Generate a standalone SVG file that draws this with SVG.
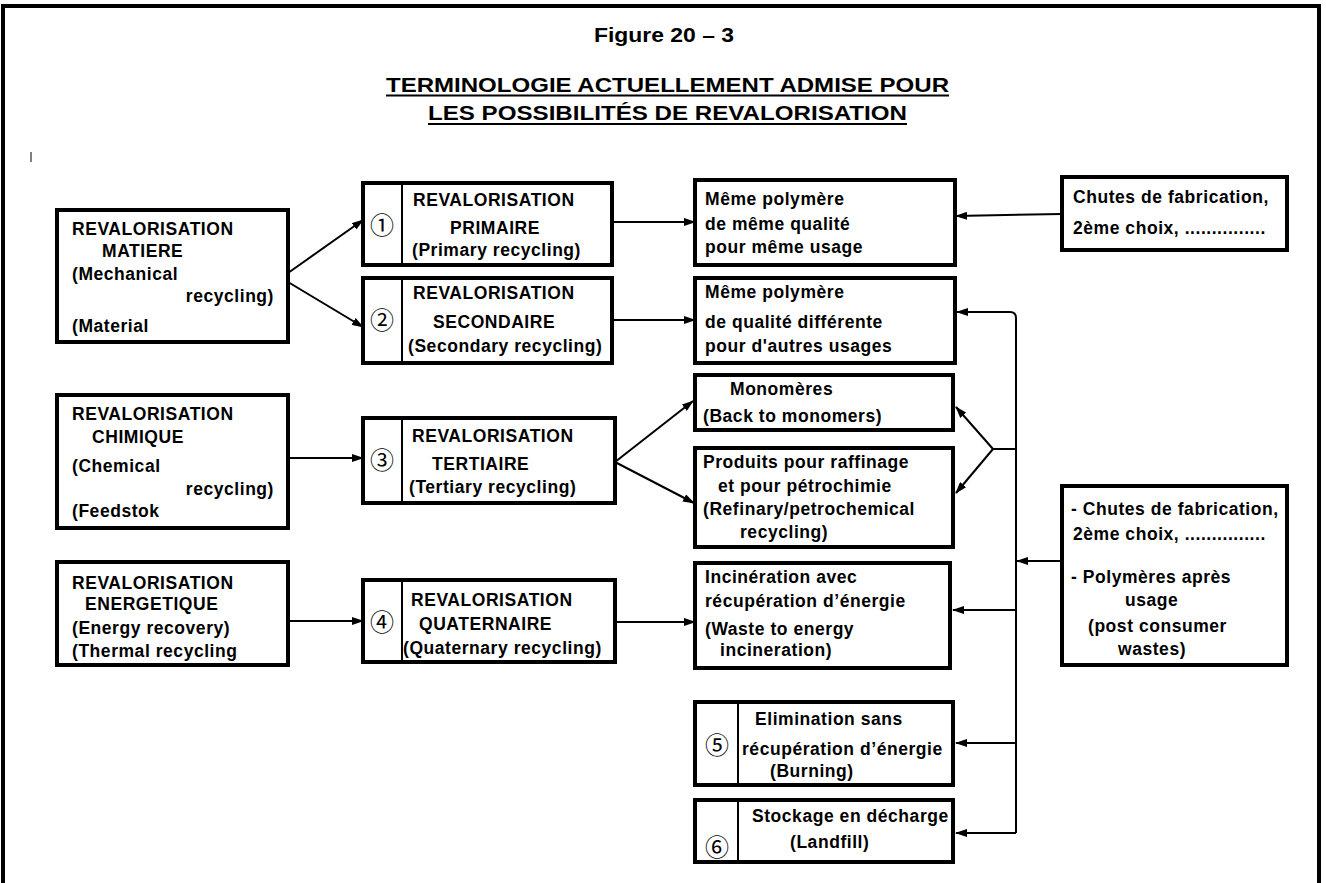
<svg xmlns="http://www.w3.org/2000/svg" width="1326" height="883" viewBox="0 0 1326 883">
<defs>
<marker id="ah" markerWidth="12" markerHeight="8" refX="11" refY="4" orient="auto" markerUnits="userSpaceOnUse"><path d="M0,0 L12,4 L0,8 z" fill="#000"/></marker>
</defs>
<style>
.box{fill:#fff;stroke:#000;stroke-width:4}
.dv{stroke:#000;stroke-width:2}
.t{font-family:"Liberation Sans",Arial,sans-serif;font-weight:bold;font-size:17.5px;fill:#000;letter-spacing:0.55px}
.h{font-family:"Liberation Sans",Arial,sans-serif;font-weight:bold;fill:#000;text-anchor:middle}
.c{font-family:"Noto Sans CJK JP","DejaVu Sans",sans-serif;font-size:24px;text-anchor:middle;fill:#000}
.ln{fill:none;stroke:#000;stroke-width:2}
.ul{stroke:#000;stroke-width:2}
</style>
<rect width="1326" height="883" fill="#fff"/>
<g id="frame">
<path d="M3,883 V6 H1319 V883" fill="none" stroke="#000" stroke-width="4"/>
<line x1="31" y1="152" x2="31" y2="162" stroke="#000" stroke-width="1"/>
</g>
<g id="title">
<text class="h" x="664" y="42" font-size="21" textLength="140" lengthAdjust="spacingAndGlyphs">Figure 20 – 3</text>
<text class="h" x="667.5" y="92" font-size="21" textLength="563" lengthAdjust="spacingAndGlyphs">TERMINOLOGIE ACTUELLEMENT ADMISE POUR</text>
<line class="ul" x1="386" y1="95.5" x2="949" y2="95.5"/>
<text class="h" x="667.5" y="120" font-size="21" textLength="479" lengthAdjust="spacingAndGlyphs">LES POSSIBILITÉS DE REVALORISATION</text>
<line class="ul" x1="428" y1="124" x2="907" y2="124"/>
</g>
<g id="connectors">
<line class="ln" x1="288" y1="273" x2="363" y2="220" marker-end="url(#ah)"/>
<line class="ln" x1="288" y1="282" x2="363" y2="327" marker-end="url(#ah)"/>
<line class="ln" x1="612" y1="222" x2="695" y2="222" marker-end="url(#ah)"/>
<line class="ln" x1="612" y1="320" x2="695" y2="320" marker-end="url(#ah)"/>
<line class="ln" x1="1062" y1="214" x2="956" y2="216" marker-end="url(#ah)"/>
<path class="ln" d="M1016,833 V318 Q1016,312 1010,312 H957" marker-end="url(#ah)"/>
<line class="ln" x1="1016" y1="449" x2="993" y2="449"/>
<line class="ln" x1="993" y1="449" x2="956" y2="407" marker-end="url(#ah)"/>
<line class="ln" x1="993" y1="449" x2="956" y2="493" marker-end="url(#ah)"/>
<line class="ln" x1="1016" y1="610" x2="953" y2="610" marker-end="url(#ah)"/>
<line class="ln" x1="1016" y1="743" x2="956" y2="743" marker-end="url(#ah)"/>
<line class="ln" x1="1016" y1="833" x2="956" y2="833" marker-end="url(#ah)"/>
<line class="ln" x1="1062" y1="561" x2="1017" y2="561" marker-end="url(#ah)"/>
<line class="ln" x1="288" y1="458" x2="363" y2="458" marker-end="url(#ah)"/>
<line class="ln" x1="615" y1="462" x2="693" y2="401" marker-end="url(#ah)"/>
<line class="ln" x1="615" y1="462" x2="694" y2="503" marker-end="url(#ah)"/>
<line class="ln" x1="288" y1="621" x2="363" y2="621" marker-end="url(#ah)"/>
<line class="ln" x1="615" y1="622" x2="695" y2="622" marker-end="url(#ah)"/>
</g>
<g id="matiere">
<rect class="box" x="57" y="210" width="231" height="132"/>
<text class="t" x="72" y="235">REVALORISATION</text>
<text class="t" x="102" y="257">MATIERE</text>
<text class="t" x="72" y="280">(Mechanical</text>
<text class="t" x="274" y="302" text-anchor="end">recycling)</text>
<text class="t" x="72" y="332">(Material</text>
</g>
<g id="primaire">
<rect class="box" x="363" y="183" width="249" height="82"/>
<line class="dv" x1="402" y1="183" x2="402" y2="265"/>
<text class="c" x="382" y="234">①</text>
<text class="t" x="413" y="206">REVALORISATION</text>
<text class="t" x="450" y="234">PRIMAIRE</text>
<text class="t" x="412" y="256">(Primary recycling)</text>
</g>
<g id="secondaire">
<rect class="box" x="363" y="278" width="249" height="85"/>
<line class="dv" x1="402" y1="278" x2="402" y2="363"/>
<text class="c" x="382" y="329">②</text>
<text class="t" x="413" y="299">REVALORISATION</text>
<text class="t" x="433" y="328">SECONDAIRE</text>
<text class="t" x="408" y="352">(Secondary recycling)</text>
</g>
<g id="meme1">
<rect class="box" x="695" y="180" width="260" height="85"/>
<text class="t" x="705" y="205">Même polymère</text>
<text class="t" x="705" y="230">de même qualité</text>
<text class="t" x="705" y="253">pour même usage</text>
</g>
<g id="meme2">
<rect class="box" x="695" y="278" width="260" height="85"/>
<text class="t" x="705" y="298">Même polymère</text>
<text class="t" x="705" y="328">de qualité différente</text>
<text class="t" x="705" y="352">pour d'autres usages</text>
</g>
<g id="chutes1">
<rect class="box" x="1062" y="177" width="225" height="73"/>
<text class="t" x="1073" y="203">Chutes de fabrication,</text>
<text class="t" x="1073" y="234">2ème choix, ...............</text>
</g>
<g id="chimique">
<rect class="box" x="57" y="395" width="231" height="133"/>
<text class="t" x="72" y="420">REVALORISATION</text>
<text class="t" x="92" y="443">CHIMIQUE</text>
<text class="t" x="72" y="472">(Chemical</text>
<text class="t" x="274" y="495" text-anchor="end">recycling)</text>
<text class="t" x="72" y="517">(Feedstok</text>
</g>
<g id="tertiaire">
<rect class="box" x="363" y="418" width="252" height="85"/>
<line class="dv" x1="402" y1="418" x2="402" y2="503"/>
<text class="c" x="382" y="469">③</text>
<text class="t" x="412" y="442">REVALORISATION</text>
<text class="t" x="432" y="470">TERTIAIRE</text>
<text class="t" x="409" y="493">(Tertiary recycling)</text>
</g>
<g id="monomeres">
<rect class="box" x="695" y="375" width="258" height="55"/>
<text class="t" x="730" y="395">Monomères</text>
<text class="t" x="703" y="422">(Back to monomers)</text>
</g>
<g id="produits">
<rect class="box" x="695" y="448" width="258" height="99"/>
<text class="t" x="703" y="468">Produits pour raffinage</text>
<text class="t" x="718" y="492">et pour pétrochimie</text>
<text class="t" x="703" y="515">(Refinary/petrochemical</text>
<text class="t" x="740" y="538">recycling)</text>
</g>
<g id="chutes2">
<rect class="box" x="1062" y="486" width="225" height="179"/>
<text class="t" x="1071" y="515">- Chutes de fabrication,</text>
<text class="t" x="1073" y="540">2ème choix, ...............</text>
<text class="t" x="1071" y="583">- Polymères après</text>
<text class="t" x="1125" y="606">usage</text>
<text class="t" x="1088" y="632">(post consumer</text>
<text class="t" x="1118" y="655">wastes)</text>
</g>
<g id="energetique">
<rect class="box" x="57" y="562" width="231" height="103"/>
<text class="t" x="72" y="589">REVALORISATION</text>
<text class="t" x="85" y="610">ENERGETIQUE</text>
<text class="t" x="72" y="634">(Energy recovery)</text>
<text class="t" x="72" y="657">(Thermal recycling</text>
</g>
<g id="quaternaire">
<rect class="box" x="363" y="580" width="252" height="82"/>
<line class="dv" x1="402" y1="580" x2="402" y2="662"/>
<text class="c" x="382" y="631">④</text>
<text class="t" x="411" y="606">REVALORISATION</text>
<text class="t" x="419" y="630">QUATERNAIRE</text>
<text class="t" x="403" y="654">(Quaternary recycling)</text>
</g>
<g id="incineration">
<rect class="box" x="695" y="563" width="255" height="105"/>
<text class="t" x="705" y="583">Incinération avec</text>
<text class="t" x="705" y="607">récupération d’énergie</text>
<text class="t" x="705" y="635">(Waste to energy</text>
<text class="t" x="720" y="656">incineration)</text>
</g>
<g id="elimination">
<rect class="box" x="695" y="702" width="258" height="83"/>
<line class="dv" x1="738" y1="702" x2="738" y2="785"/>
<text class="c" x="717" y="754">⑤</text>
<text class="t" x="755" y="725">Elimination sans</text>
<text class="t" x="742" y="755">récupération d’énergie</text>
<text class="t" x="770" y="777">(Burning)</text>
</g>
<g id="stockage">
<rect class="box" x="695" y="800" width="258" height="62"/>
<line class="dv" x1="738" y1="800" x2="738" y2="862"/>
<text class="c" x="717" y="856">⑥</text>
<text class="t" x="752" y="822">Stockage en décharge</text>
<text class="t" x="790" y="848">(Landfill)</text>
</g>
</svg>
